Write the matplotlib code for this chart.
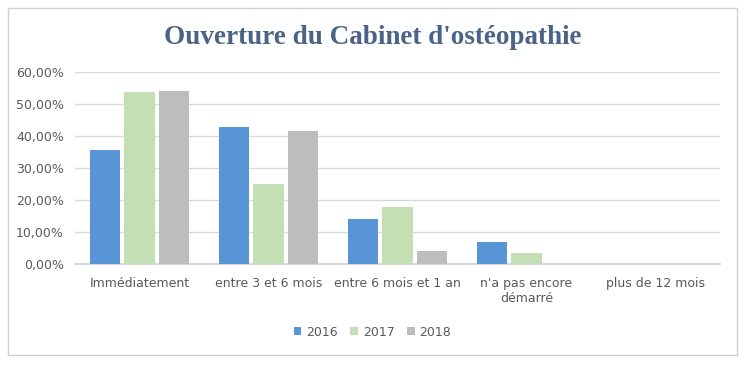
import matplotlib.pyplot as plt
import numpy as np
from matplotlib.patches import Rectangle
from matplotlib.ticker import FuncFormatter

categories = ["Immédiatement", "entre 3 et 6 mois", "entre 6 mois et 1 an",
              "n'a pas encore\ndémarré", "plus de 12 mois"]
values_2016 = [0.357, 0.429, 0.141, 0.071, 0.0]
values_2017 = [0.537, 0.250, 0.180, 0.036, 0.0]
values_2018 = [0.542, 0.417, 0.042, 0.0, 0.0]

series = {"2016": values_2016, "2017": values_2017, "2018": values_2018}
colors = {"2016": "#5795d6", "2017": "#c4dfb3", "2018": "#bdbdbd"}
text_color = "#595959"

fig = plt.figure(figsize=(7.45, 3.65), dpi=100)
fig.patches.append(Rectangle((0.011, 0.027), 0.978, 0.951, transform=fig.transFigure,
                             fill=False, edgecolor="#d0d0d0", linewidth=1.0))

ax = fig.add_axes([0.1007, 0.2759, 0.8657, 0.527])
x = np.arange(len(categories))
step = 0.27
width = 0.235
for i, (year, vals) in enumerate(series.items()):
    ax.bar(x + (i - 1) * step, vals, width, color=colors[year], label=year,
           zorder=3, edgecolor="none")

ax.set_xlim(-0.5, len(categories) - 0.5)
ax.set_ylim(0, 0.6)
ax.set_yticks(np.arange(0, 0.61, 0.1))
ax.yaxis.set_major_formatter(FuncFormatter(lambda v, p: f"{v * 100:.2f}%".replace(".", ",")))
ax.set_xticks(x)
ax.set_xticklabels(categories)
ax.grid(axis="y", color="#d9d9d9", linewidth=1.0, zorder=0)
for side in ["top", "right", "left"]:
    ax.spines[side].set_visible(False)
ax.spines["bottom"].set_color("#d0d0d0")
ax.spines["bottom"].set_linewidth(1.2)
ax.tick_params(axis="both", length=0, labelsize=9, colors=text_color)
ax.tick_params(axis="x", pad=9)
ax.tick_params(axis="y", pad=8)

fig.text(0.5, 0.896, "Ouverture du Cabinet d'ostéopathie", ha="center", va="center",
         fontsize=19.5, fontweight="bold", family="Liberation Serif", color="#4b6387")

ax.legend(loc="center", bbox_to_anchor=(0.5, 0.09), bbox_transform=fig.transFigure,
          ncol=3, frameon=False, fontsize=9, labelcolor=text_color,
          handlelength=0.6, handleheight=0.6, handletextpad=0.4, columnspacing=1.0)

fig.savefig("out.png", dpi=100)
